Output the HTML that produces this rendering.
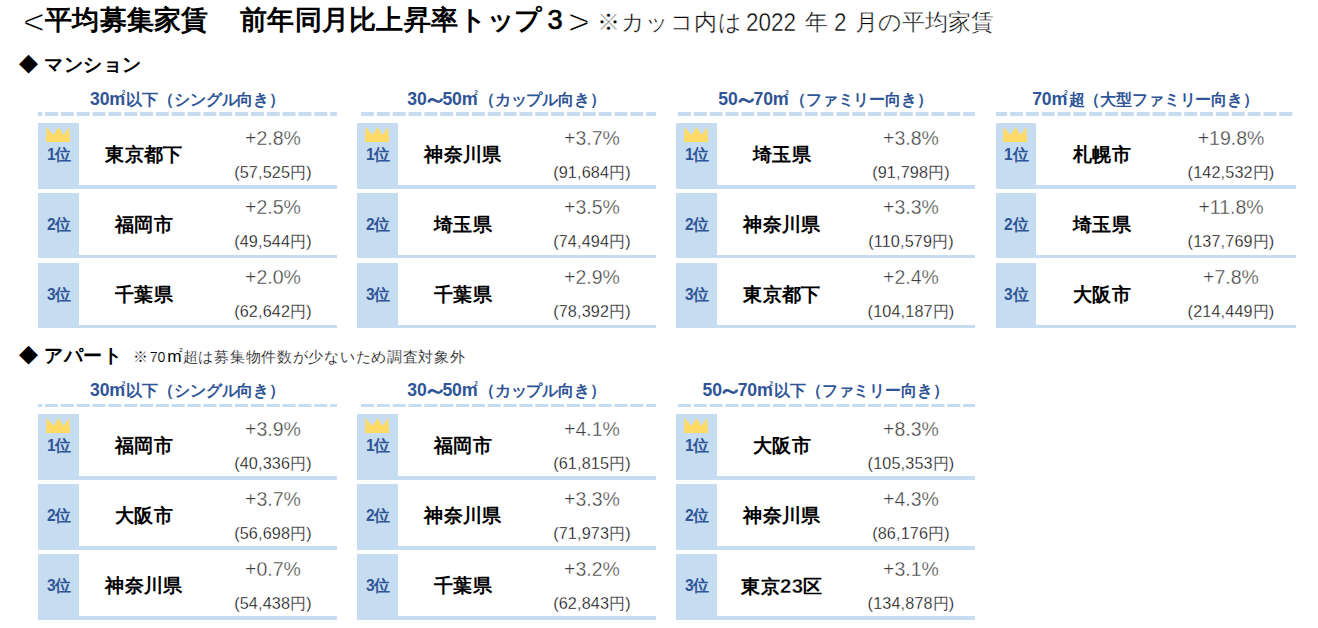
<!DOCTYPE html>
<html lang="ja">
<head>
<meta charset="utf-8">
<title>平均募集家賃 前年同月比上昇率トップ３</title>
<style>
html,body{margin:0;padding:0;background:#fff;}
body{width:1318px;height:628px;position:relative;overflow:hidden;font-family:"Liberation Sans",sans-serif;color:#000;}
div,svg{position:absolute;}
.t{white-space:nowrap;}
.col{top:0;width:299px;height:628px;}
.hd{--c:#2f5597;left:-40px;width:379px;height:24px;line-height:24px;text-align:center;font-size:16px;letter-spacing:-0.15px;font-weight:bold;color:#2f5597;white-space:nowrap;}
.dl{left:0;}
.row{left:0;width:299px;}
.rk{left:0;top:0;width:41px;background:#c6dcf0;}
.ln{left:0;width:299px;background:#c6dcf0;}
.cr{left:8px;top:4px;}
.rt{left:0;top:19px;width:41px;height:24px;line-height:24px;text-align:center;font-size:16px;font-weight:bold;color:#2f5597;white-space:nowrap;}
.nm{left:41px;top:17px;width:130px;height:30px;line-height:30px;text-align:center;font-size:19.3px;letter-spacing:0.4px;font-weight:bold;white-space:nowrap;}
.pc{left:175px;top:2px;width:120px;height:26px;line-height:26px;text-align:center;font-size:19.5px;color:#3c3c3c;-webkit-text-stroke:0.35px #fff;white-space:nowrap;}
.yn{left:175px;top:37px;width:120px;height:24px;line-height:24px;text-align:center;font-size:16.2px;letter-spacing:0.15px;color:#000;-webkit-text-stroke:0.3px #fff;white-space:nowrap;}
.dg{font-size:1.1em;}
.m2{position:relative;display:inline-block;font-size:1.12em;width:0.96em;text-align:left;color:transparent;-webkit-text-stroke:0 transparent;}
.m2::before{content:"m";position:absolute;left:0;top:0;color:var(--c);}
.m2{letter-spacing:0;}
.m2::after{content:"2";position:absolute;font-size:0.36em;line-height:1;left:1.95em;top:0.62em;color:var(--c);}
.wv{display:inline-block;transform:scale(1.55,1.45);}
.rt .dg{display:inline-block;font-size:1.08em;transform:scaleX(0.9);transform-origin:right center;}
.nm .dg{font-size:1.06em;-webkit-text-stroke:0.35px #fff;}
.ttl{top:2px;height:36px;line-height:36px;font-size:27.2px;letter-spacing:0.3px;font-weight:bold;white-space:nowrap;}
.ttn{top:2px;height:36px;line-height:36px;font-size:27.2px;font-weight:normal;white-space:nowrap;}
.nt{top:6px;height:32px;line-height:32px;font-size:23.4px;letter-spacing:0.5px;color:#000;-webkit-text-stroke:0.4px #fff;white-space:nowrap;}
.nd{font-size:25px;letter-spacing:0;transform:scaleX(0.9);transform-origin:left center;}
.ab{-webkit-text-stroke:0.9px #fff;font-size:34.5px;margin-top:2px;transform:scaleX(1.08);transform-origin:left center;}
.t3{font-weight:normal;-webkit-text-stroke:0.7px #000;left:547.8px;}
.n70{display:inline-block;letter-spacing:0;margin:0 1.2px 0 0.6px;transform:scaleX(0.92);}
.sn .m2{width:0.9em;}
.sec{left:18.5px;height:28px;line-height:28px;font-size:19.4px;letter-spacing:0.6px;font-weight:bold;white-space:nowrap;}
.sn{--c:#000;left:132.5px;top:343.5px;height:24px;line-height:24px;font-size:15.4px;letter-spacing:0.72px;color:#000;-webkit-text-stroke:0.22px #fff;white-space:nowrap;}
</style>
</head>
<body>
<div class="ttn ab" style="left:22.6px">&lt;</div>
<div class="ttl" style="left:45px">平均募集家賃</div>
<div class="ttl" style="left:240px">前年同月比上昇率</div>
<div class="ttl" style="left:458.6px">ト</div>
<div class="ttl" style="left:487.3px">ッ</div>
<div class="ttl" style="left:513.6px">プ</div>
<div class="ttl t3" style="left:547.5px">3</div>
<div class="ttn ab" style="left:568.3px">&gt;</div>
<div class="nt" style="left:597px">※カッコ内は</div>
<div class="nt nd" style="left:745.5px">2022</div>
<div class="nt" style="left:805px">年</div>
<div class="nt nd" style="left:834px">2</div>
<div class="nt" style="left:854.5px;letter-spacing:0.2px">月の平均家賃</div>
<div class="sec" style="top:50px">◆ マンション</div>
<div class="col" style="left:38px;width:299px">
<div class="hd" style="top:86.5px"><b class="dg">30</b><span class="m2">㎡</span>以下（シングル向き）</div>
<svg class="dl" style="top:112px" width="299" height="4" viewBox="0 0 299 4"><line x1="0" y1="2.0" x2="299" y2="2.0" stroke="#c6dcf0" stroke-width="4" stroke-dasharray="13.0 2.84" stroke-dashoffset="8.84"/></svg>
<div class="row" style="top:123px;height:66px;width:299px">
<div class="rk" style="height:66px;width:41px"></div>
<div class="ln" style="top:62px;height:4px;width:299px"></div>
<svg class="cr" style="left:8px" width="24" height="15" viewBox="0 0 24 15"><path d="M0.4 0.2 L0.9 0.2 L7.5 8 L12.5 0 L17.5 8 L23 0.3 L23.4 0.3 L23.4 9 L24 9 L24 15 L0 15 L0 9 L0.4 9 Z" fill="#ffd966"/></svg>
<div class="rt" style="width:41px"><b class="dg">1</b>位</div>
<div class="nm">東京都下</div>
<div class="pc">+2.8%</div>
<div class="yn">(57,525円)</div>
</div>
<div class="row" style="top:193px;height:65px;width:299px">
<div class="rk" style="height:65px;width:41px"></div>
<div class="ln" style="top:62px;height:3px;width:299px"></div>
<div class="rt" style="width:41px"><b class="dg">2</b>位</div>
<div class="nm">福岡市</div>
<div class="pc" style="margin-top:-1px">+2.5%</div>
<div class="yn" style="margin-top:-1px">(49,544円)</div>
</div>
<div class="row" style="top:263px;height:65px;width:299px">
<div class="rk" style="height:65px;width:41px"></div>
<div class="ln" style="top:62px;height:3px;width:299px"></div>
<div class="rt" style="width:41px"><b class="dg">3</b>位</div>
<div class="nm">千葉県</div>
<div class="pc" style="margin-top:-1px">+2.0%</div>
<div class="yn" style="margin-top:-1px">(62,642円)</div>
</div>
</div>
<div class="col" style="left:357px;width:299px">
<div class="hd" style="top:86.5px"><b class="dg">30</b><span class="wv">～</span><b class="dg">50</b><span class="m2">㎡</span>（カップル向き）</div>
<svg class="dl" style="top:112px" width="299" height="4" viewBox="0 0 299 4"><line x1="3" y1="2.0" x2="299" y2="2.0" stroke="#c6dcf0" stroke-width="4" stroke-dasharray="13.0 2.84" stroke-dashoffset="14.84"/></svg>
<div class="row" style="top:123px;height:66px;width:299px">
<div class="rk" style="height:66px;width:41px"></div>
<div class="ln" style="top:62px;height:4px;width:299px"></div>
<svg class="cr" style="left:8px" width="24" height="15" viewBox="0 0 24 15"><path d="M0.4 0.2 L0.9 0.2 L7.5 8 L12.5 0 L17.5 8 L23 0.3 L23.4 0.3 L23.4 9 L24 9 L24 15 L0 15 L0 9 L0.4 9 Z" fill="#ffd966"/></svg>
<div class="rt" style="width:41px"><b class="dg">1</b>位</div>
<div class="nm">神奈川県</div>
<div class="pc">+3.7%</div>
<div class="yn">(91,684円)</div>
</div>
<div class="row" style="top:193px;height:65px;width:299px">
<div class="rk" style="height:65px;width:41px"></div>
<div class="ln" style="top:62px;height:3px;width:299px"></div>
<div class="rt" style="width:41px"><b class="dg">2</b>位</div>
<div class="nm">埼玉県</div>
<div class="pc" style="margin-top:-1px">+3.5%</div>
<div class="yn" style="margin-top:-1px">(74,494円)</div>
</div>
<div class="row" style="top:263px;height:65px;width:299px">
<div class="rk" style="height:65px;width:41px"></div>
<div class="ln" style="top:62px;height:3px;width:299px"></div>
<div class="rt" style="width:41px"><b class="dg">3</b>位</div>
<div class="nm">千葉県</div>
<div class="pc" style="margin-top:-1px">+2.9%</div>
<div class="yn" style="margin-top:-1px">(78,392円)</div>
</div>
</div>
<div class="col" style="left:676px;width:299px">
<div class="hd" style="top:86.5px"><b class="dg">50</b><span class="wv">～</span><b class="dg">70</b><span class="m2">㎡</span>（ファミリー向き）</div>
<svg class="dl" style="top:112px" width="299" height="4" viewBox="0 0 299 4"><line x1="0" y1="2.0" x2="299" y2="2.0" stroke="#c6dcf0" stroke-width="4" stroke-dasharray="13.0 2.84" stroke-dashoffset="13.84"/></svg>
<div class="row" style="top:123px;height:66px;width:299px">
<div class="rk" style="height:66px;width:41px"></div>
<div class="ln" style="top:62px;height:4px;width:299px"></div>
<svg class="cr" style="left:8px" width="24" height="15" viewBox="0 0 24 15"><path d="M0.4 0.2 L0.9 0.2 L7.5 8 L12.5 0 L17.5 8 L23 0.3 L23.4 0.3 L23.4 9 L24 9 L24 15 L0 15 L0 9 L0.4 9 Z" fill="#ffd966"/></svg>
<div class="rt" style="width:41px"><b class="dg">1</b>位</div>
<div class="nm">埼玉県</div>
<div class="pc">+3.8%</div>
<div class="yn">(91,798円)</div>
</div>
<div class="row" style="top:193px;height:65px;width:299px">
<div class="rk" style="height:65px;width:41px"></div>
<div class="ln" style="top:62px;height:3px;width:299px"></div>
<div class="rt" style="width:41px"><b class="dg">2</b>位</div>
<div class="nm">神奈川県</div>
<div class="pc" style="margin-top:-1px">+3.3%</div>
<div class="yn" style="margin-top:-1px">(110,579円)</div>
</div>
<div class="row" style="top:263px;height:65px;width:299px">
<div class="rk" style="height:65px;width:41px"></div>
<div class="ln" style="top:62px;height:3px;width:299px"></div>
<div class="rt" style="width:41px"><b class="dg">3</b>位</div>
<div class="nm">東京都下</div>
<div class="pc" style="margin-top:-1px">+2.4%</div>
<div class="yn" style="margin-top:-1px">(104,187円)</div>
</div>
</div>
<div class="col" style="left:996px;width:300px">
<div class="hd" style="top:86.5px"><b class="dg">70</b><span class="m2">㎡</span>超（大型ファミリー向き）</div>
<svg class="dl" style="top:112px" width="300" height="4" viewBox="0 0 300 4"><line x1="0" y1="2.0" x2="297" y2="2.0" stroke="#c6dcf0" stroke-width="4" stroke-dasharray="13.0 2.84" stroke-dashoffset="1.84"/></svg>
<div class="row" style="top:123px;height:66px;width:300px">
<div class="rk" style="height:66px;width:40px"></div>
<div class="ln" style="top:62px;height:4px;width:300px"></div>
<svg class="cr" style="left:6.6px" width="24" height="15" viewBox="0 0 24 15"><path d="M0.4 0.2 L0.9 0.2 L7.5 8 L12.5 0 L17.5 8 L23 0.3 L23.4 0.3 L23.4 9 L24 9 L24 15 L0 15 L0 9 L0.4 9 Z" fill="#ffd966"/></svg>
<div class="rt" style="width:40px"><b class="dg">1</b>位</div>
<div class="nm">札幌市</div>
<div class="pc">+19.8%</div>
<div class="yn">(142,532円)</div>
</div>
<div class="row" style="top:193px;height:65px;width:300px">
<div class="rk" style="height:65px;width:40px"></div>
<div class="ln" style="top:62px;height:3px;width:300px"></div>
<div class="rt" style="width:40px"><b class="dg">2</b>位</div>
<div class="nm">埼玉県</div>
<div class="pc" style="margin-top:-1px">+11.8%</div>
<div class="yn" style="margin-top:-1px">(137,769円)</div>
</div>
<div class="row" style="top:263px;height:65px;width:300px">
<div class="rk" style="height:65px;width:40px"></div>
<div class="ln" style="top:62px;height:3px;width:300px"></div>
<div class="rt" style="width:40px"><b class="dg">3</b>位</div>
<div class="nm">大阪市</div>
<div class="pc" style="margin-top:-1px">+7.8%</div>
<div class="yn" style="margin-top:-1px">(214,449円)</div>
</div>
</div>
<div class="sec" style="top:341px">◆ アパート</div>
<div class="sn">※<span class="n70">70</span><span class="m2">㎡</span>超は募集物件数が少ないため調査対象外</div>
<div class="col" style="left:38px;width:299px">
<div class="hd" style="top:377.5px"><b class="dg">30</b><span class="m2">㎡</span>以下（シングル向き）</div>
<svg class="dl" style="top:404px" width="299" height="3" viewBox="0 0 299 3"><line x1="0" y1="1.5" x2="299" y2="1.5" stroke="#c6dcf0" stroke-width="3" stroke-dasharray="13.0 2.84" stroke-dashoffset="8.84"/></svg>
<div class="row" style="top:414px;height:66px;width:299px">
<div class="rk" style="height:66px;width:41px"></div>
<div class="ln" style="top:62px;height:4px;width:299px"></div>
<svg class="cr" style="left:8px" width="24" height="15" viewBox="0 0 24 15"><path d="M0.4 0.2 L0.9 0.2 L7.5 8 L12.5 0 L17.5 8 L23 0.3 L23.4 0.3 L23.4 9 L24 9 L24 15 L0 15 L0 9 L0.4 9 Z" fill="#ffd966"/></svg>
<div class="rt" style="width:41px"><b class="dg">1</b>位</div>
<div class="nm">福岡市</div>
<div class="pc">+3.9%</div>
<div class="yn">(40,336円)</div>
</div>
<div class="row" style="top:484px;height:66px;width:299px">
<div class="rk" style="height:66px;width:41px"></div>
<div class="ln" style="top:62px;height:4px;width:299px"></div>
<div class="rt" style="width:41px"><b class="dg">2</b>位</div>
<div class="nm">大阪市</div>
<div class="pc">+3.7%</div>
<div class="yn">(56,698円)</div>
</div>
<div class="row" style="top:554px;height:66px;width:299px">
<div class="rk" style="height:66px;width:41px"></div>
<div class="ln" style="top:62px;height:4px;width:299px"></div>
<div class="rt" style="width:41px"><b class="dg">3</b>位</div>
<div class="nm">神奈川県</div>
<div class="pc">+0.7%</div>
<div class="yn">(54,438円)</div>
</div>
</div>
<div class="col" style="left:357px;width:299px">
<div class="hd" style="top:377.5px"><b class="dg">30</b><span class="wv">～</span><b class="dg">50</b><span class="m2">㎡</span>（カップル向き）</div>
<svg class="dl" style="top:404px" width="299" height="3" viewBox="0 0 299 3"><line x1="3" y1="1.5" x2="299" y2="1.5" stroke="#c6dcf0" stroke-width="3" stroke-dasharray="13.0 2.84" stroke-dashoffset="14.84"/></svg>
<div class="row" style="top:414px;height:66px;width:299px">
<div class="rk" style="height:66px;width:41px"></div>
<div class="ln" style="top:62px;height:4px;width:299px"></div>
<svg class="cr" style="left:8px" width="24" height="15" viewBox="0 0 24 15"><path d="M0.4 0.2 L0.9 0.2 L7.5 8 L12.5 0 L17.5 8 L23 0.3 L23.4 0.3 L23.4 9 L24 9 L24 15 L0 15 L0 9 L0.4 9 Z" fill="#ffd966"/></svg>
<div class="rt" style="width:41px"><b class="dg">1</b>位</div>
<div class="nm">福岡市</div>
<div class="pc">+4.1%</div>
<div class="yn">(61,815円)</div>
</div>
<div class="row" style="top:484px;height:66px;width:299px">
<div class="rk" style="height:66px;width:41px"></div>
<div class="ln" style="top:62px;height:4px;width:299px"></div>
<div class="rt" style="width:41px"><b class="dg">2</b>位</div>
<div class="nm">神奈川県</div>
<div class="pc">+3.3%</div>
<div class="yn">(71,973円)</div>
</div>
<div class="row" style="top:554px;height:66px;width:299px">
<div class="rk" style="height:66px;width:41px"></div>
<div class="ln" style="top:62px;height:4px;width:299px"></div>
<div class="rt" style="width:41px"><b class="dg">3</b>位</div>
<div class="nm">千葉県</div>
<div class="pc">+3.2%</div>
<div class="yn">(62,843円)</div>
</div>
</div>
<div class="col" style="left:676px;width:299px">
<div class="hd" style="top:377.5px"><b class="dg">50</b><span class="wv">～</span><b class="dg">70</b><span class="m2">㎡</span>以下（ファミリー向き）</div>
<svg class="dl" style="top:404px" width="299" height="3" viewBox="0 0 299 3"><line x1="0" y1="1.5" x2="299" y2="1.5" stroke="#c6dcf0" stroke-width="3" stroke-dasharray="13.0 2.84" stroke-dashoffset="13.84"/></svg>
<div class="row" style="top:414px;height:66px;width:299px">
<div class="rk" style="height:66px;width:41px"></div>
<div class="ln" style="top:62px;height:4px;width:299px"></div>
<svg class="cr" style="left:8px" width="24" height="15" viewBox="0 0 24 15"><path d="M0.4 0.2 L0.9 0.2 L7.5 8 L12.5 0 L17.5 8 L23 0.3 L23.4 0.3 L23.4 9 L24 9 L24 15 L0 15 L0 9 L0.4 9 Z" fill="#ffd966"/></svg>
<div class="rt" style="width:41px"><b class="dg">1</b>位</div>
<div class="nm">大阪市</div>
<div class="pc">+8.3%</div>
<div class="yn">(105,353円)</div>
</div>
<div class="row" style="top:484px;height:66px;width:299px">
<div class="rk" style="height:66px;width:41px"></div>
<div class="ln" style="top:62px;height:4px;width:299px"></div>
<div class="rt" style="width:41px"><b class="dg">2</b>位</div>
<div class="nm">神奈川県</div>
<div class="pc">+4.3%</div>
<div class="yn">(86,176円)</div>
</div>
<div class="row" style="top:554px;height:66px;width:299px">
<div class="rk" style="height:66px;width:41px"></div>
<div class="ln" style="top:62px;height:4px;width:299px"></div>
<div class="rt" style="width:41px"><b class="dg">3</b>位</div>
<div class="nm">東京<b class="dg">23</b>区</div>
<div class="pc">+3.1%</div>
<div class="yn">(134,878円)</div>
</div>
</div>
</body>
</html>
